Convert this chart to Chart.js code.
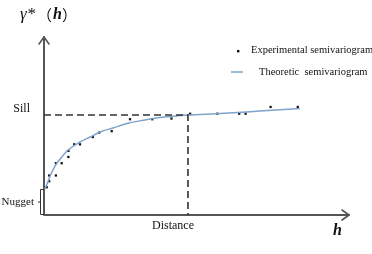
<!DOCTYPE html>
<html>
<head>
<meta charset="utf-8">
<script src="https://cdn.jsdelivr.net/npm/chart.js@4.4.1/dist/chart.umd.min.js"></script>
<style>
html,body{margin:0;padding:0;background:#fff;}
#wrap{width:372px;height:254px;position:relative;}
</style>
</head>
<body>
<div id="wrap"><canvas id="c" width="372" height="254"></canvas></div>
<script>
// Experimental semivariogram points (lag h, gamma)
const expX = [0.09,0.17,0.17,0.39,0.39,0.58,0.80,0.80,0.99,1.18,1.60,1.81,2.22,2.82,3.55,4.18,4.79,5.68,6.40,6.61,7.43,8.32];
const expY = [1.56,1.90,2.22,2.22,2.91,2.91,3.60,3.26,3.97,3.97,4.38,4.63,4.71,5.38,5.38,5.42,5.69,5.69,5.69,5.69,6.07,6.07];
// Theoretic semivariogram
const curveX = [0.03,0.10,0.20,0.36,0.53,0.79,1.18,1.51,1.84,2.26,2.79,3.31,3.80,4.30,4.72,5.77,7.08,8.39];
const curveY = [1.46,1.74,2.19,2.75,3.15,3.65,4.10,4.38,4.66,4.89,5.17,5.34,5.48,5.56,5.62,5.70,5.84,5.98];
const sill = 5.62;
const nugget = 1.46;
const rangeDist = 4.72;
const axisMax = 10;
const labels = {yTitle:'γ*（h）', xTitle:'h', sill:'Sill', nugget:'Nugget', distance:'Distance',
  legExp:'Experimental semivariogram', legTheo:'Theoretic  semivariogram'};

const expData = expX.map((x,i)=>({x:x,y:expY[i]}));
const curveData = curveX.map((x,i)=>({x:x,y:curveY[i]}));
const guideData = [{x:0,y:sill},{x:rangeDist,y:sill},{x:rangeDist,y:0}];

const deco = {
  id:'deco',
  beforeDatasetsDraw(chart){
    const ctx = chart.ctx, xs = chart.scales.x, ys = chart.scales.y;
    const x0 = xs.getPixelForValue(0), y0 = ys.getPixelForValue(0);
    const xE = xs.getPixelForValue(axisMax), yE = ys.getPixelForValue(axisMax);
    ctx.save();
    ctx.strokeStyle = '#555'; ctx.lineWidth = 2; ctx.lineCap='round'; ctx.lineJoin='round';
    ctx.beginPath();
    ctx.moveTo(x0, y0); ctx.lineTo(xE, y0);
    ctx.moveTo(x0, y0); ctx.lineTo(x0, yE);
    ctx.stroke();
    ctx.lineWidth = 1.6;
    ctx.beginPath();
    ctx.moveTo(xE-7, y0-5); ctx.lineTo(xE, y0); ctx.lineTo(xE-7, y0+5);
    ctx.moveTo(x0-5, yE+7); ctx.lineTo(x0, yE); ctx.lineTo(x0+5, yE+7);
    ctx.stroke();
    // nugget bracket
    const yn = ys.getPixelForValue(nugget);
    ctx.strokeStyle = '#333'; ctx.lineWidth = 1; ctx.lineCap='butt';
    ctx.beginPath();
    ctx.moveTo(x0, yn+0.5); ctx.lineTo(x0-3.5, yn+0.5); ctx.lineTo(x0-3.5, y0-0.5); ctx.lineTo(x0, y0-0.5);
    ctx.moveTo(x0-3.5, (yn+y0)/2); ctx.lineTo(x0-6, (yn+y0)/2);
    ctx.stroke();
    ctx.restore();
  },
  afterDraw(chart){
    const ctx = chart.ctx, xs = chart.scales.x, ys = chart.scales.y;
    const x0 = xs.getPixelForValue(0), y0 = ys.getPixelForValue(0);
    ctx.save();
    ctx.fillStyle = '#111';
    ctx.textBaseline = 'middle';
    ctx.font = '12px "Liberation Serif"';
    ctx.textAlign = 'right';
    ctx.fillText(labels.sill, x0-14, ys.getPixelForValue(sill)-6);
    ctx.font = '11px "Liberation Serif"';
    ctx.fillText(labels.nugget, x0-10, (ys.getPixelForValue(nugget)+y0)/2);
    ctx.font = '12px "Liberation Serif"';
    ctx.textAlign = 'center';
    ctx.fillText(labels.distance, xs.getPixelForValue(rangeDist)-15, y0+11);
    ctx.font = 'italic bold 16px "Liberation Serif"';
    ctx.textAlign = 'left';
    ctx.fillText(labels.xTitle, xs.getPixelForValue(axisMax)-16, y0+16);
    // y title
    ctx.font = 'italic 17px "Liberation Serif"';
    ctx.fillText('γ*', 20, 15);
    ctx.font = '15px "Noto Sans CJK SC"';
    ctx.fillText('（', 37, 15);
    ctx.font = 'italic bold 16px "Liberation Serif"';
    ctx.fillText('h', 53, 15);
    ctx.font = '15px "Noto Sans CJK SC"';
    ctx.fillText('）', 62, 15);
    // legend
    ctx.fillStyle = '#111';
    ctx.fillRect(237, 50, 2.4, 2.4);
    ctx.font = '10.5px "Liberation Serif"';
    ctx.fillText(labels.legExp, 251, 50);
    ctx.strokeStyle = '#7ea3cc'; ctx.lineWidth = 1.5;
    ctx.beginPath(); ctx.moveTo(231, 72); ctx.lineTo(243, 72); ctx.stroke();
    ctx.fillText(labels.legTheo, 259, 72);
    ctx.restore();
  }
};

new Chart(document.getElementById('c'), {
  type:'scatter',
  data:{datasets:[
    {label:'guide', data:guideData, showLine:true, borderColor:'#333', borderWidth:1.6, borderDash:[7,4], pointRadius:0, fill:false, tension:0},
    {label:'Theoretic semivariogram', data:curveData, showLine:true, borderColor:'#7ea3cc', borderWidth:1.5, pointRadius:0, fill:false, cubicInterpolationMode:'monotone'},
    {label:'Experimental semivariogram', data:expData, pointStyle:'rect', pointRadius:1.6, backgroundColor:'#111', borderColor:'#111', borderWidth:0}
  ]},
  options:{
    responsive:false, animation:false, devicePixelRatio:1,
    layout:{padding:{left:44, right:23, top:37, bottom:39}},
    plugins:{legend:{display:false}, tooltip:{enabled:false}},
    scales:{
      x:{type:'linear', min:0, max:axisMax, display:false},
      y:{type:'linear', min:0, max:axisMax, display:false}
    }
  },
  plugins:[deco]
});
</script>
</body>
</html>
